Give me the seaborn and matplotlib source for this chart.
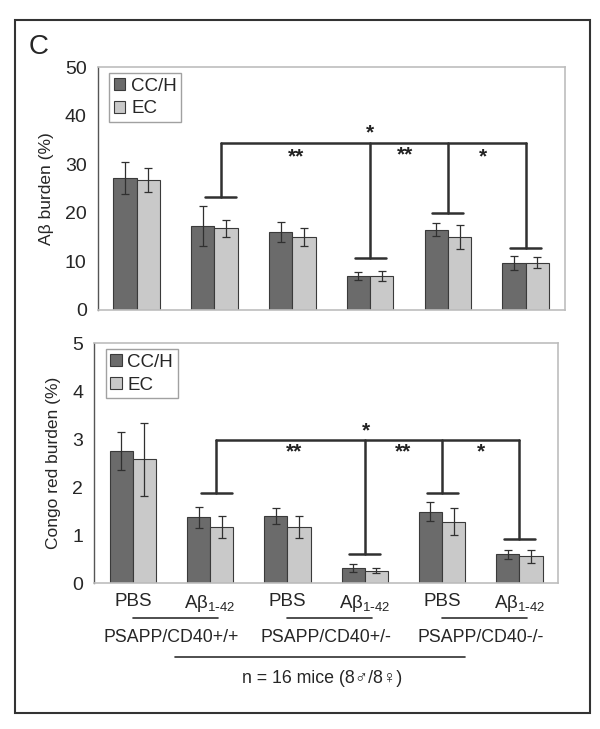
import pandas as pd
import matplotlib
matplotlib.use('Agg')
import matplotlib.pyplot as plt
from matplotlib.patches import Rectangle
from matplotlib.transforms import blended_transform_factory
import seaborn as sns

# --- Dados ---
group_ids = ['+/+ PBS', '+/+ Ab', '+/- PBS', '+/- Ab', '-/- PBS', '-/- Ab']
treatment_labels = ['PBS', r'A$\mathregular{\beta_{1\text{-}42}}$'] * 3
genotype_labels = ['PSAPP/CD40+/+', 'PSAPP/CD40+/-', 'PSAPP/CD40-/-']
regions = ['CC/H', 'EC']

# Painel superior: carga de Abeta (%)
abeta_cch = [27.2, 17.3, 16.0, 7.0, 16.5, 9.7]
abeta_cch_err = [3.3, 4.1, 2.0, 0.8, 1.3, 1.4]
abeta_ec = [26.7, 16.8, 15.0, 7.0, 15.0, 9.7]
abeta_ec_err = [2.5, 1.7, 1.8, 1.0, 2.4, 1.1]

# Painel inferior: carga de vermelho Congo (%)
congo_cch = [2.75, 1.37, 1.40, 0.31, 1.49, 0.60]
congo_cch_err = [0.40, 0.22, 0.16, 0.08, 0.20, 0.10]
congo_ec = [2.58, 1.17, 1.17, 0.26, 1.28, 0.56]
congo_ec_err = [0.76, 0.23, 0.23, 0.05, 0.28, 0.14]

# Colchetes de significancia
bracket_x = [1.08, 3, 4, 5]
abeta_bracket_top = 34.4
abeta_bracket_ends = [23.3, 10.7, 20.0, 12.7]
abeta_stars = [('*', 3.0, 36.4), ('**', 2.05, 31.6), ('**', 3.45, 32.0), ('*', 4.45, 31.6)]
congo_bracket_top = 2.98
congo_bracket_ends = [1.87, 0.60, 1.87, 0.92]
congo_stars = [('*', 3.02, 3.18), ('**', 2.08, 2.73), ('**', 3.5, 2.73), ('*', 4.5, 2.73)]

sample_text = 'n = 16 mice (8\u2642/8\u2640)'

CORES = ['#6b6b6b', '#c9c9c9']
COR_LINHA = '#303030'


def desenhar_painel(ax, cch, cch_err, ec, ec_err, ymax, passo, ylabel):
    df = pd.DataFrame({
        'grupo': group_ids * 2,
        'regiao': [regions[0]] * len(group_ids) + [regions[1]] * len(group_ids),
        'valor': cch + ec,
    })
    sns.barplot(data=df, x='grupo', y='valor', hue='regiao', order=group_ids,
                hue_order=regions, palette=CORES, width=0.6, gap=0,
                errorbar=None, edgecolor='#3a3a3a', linewidth=0.8, ax=ax)
    for container, errs in zip(list(ax.containers)[:2], [cch_err, ec_err]):
        xs = [p.get_x() + p.get_width() / 2 for p in container.patches]
        ys = [p.get_height() for p in container.patches]
        ax.errorbar(xs, ys, yerr=errs, fmt='none', ecolor=COR_LINHA,
                    elinewidth=0.9, capsize=3, capthick=0.9)
    ax.set_ylim(0, ymax)
    ax.set_yticks([passo * i for i in range(int(ymax / passo) + 1)])
    ax.set_xlim(-0.5, len(group_ids) - 0.5)
    ax.set_xlabel('')
    ax.set_ylabel(ylabel, fontsize=12.5, labelpad=8)
    ax.tick_params(axis='y', labelsize=14, length=3, color='#888888', pad=5)
    ax.tick_params(axis='x', length=0)
    for lado in ['top', 'right', 'bottom']:
        ax.spines[lado].set_color('#bdbdbd')
        ax.spines[lado].set_linewidth(1.2)
    ax.spines['left'].set_color('#555555')
    ax.spines['left'].set_linewidth(1.0)
    leg = ax.legend(loc='upper left', bbox_to_anchor=(0.025, 0.975), frameon=True,
                    fancybox=False, edgecolor='#8a8a8a', fontsize=13.5,
                    handlelength=0.6, handleheight=0.6, borderpad=0.25,
                    labelspacing=0.3, handletextpad=0.3, borderaxespad=0)
    leg.get_frame().set_linewidth(1.0)


def desenhar_colchetes(ax, topo, fundos, estrelas, meia=0.2):
    ax.plot([bracket_x[0], bracket_x[-1]], [topo, topo], color=COR_LINHA, lw=1.8)
    for x, y0 in zip(bracket_x, fundos):
        ax.plot([x, x], [topo, y0], color=COR_LINHA, lw=1.8)
        ax.plot([x - meia, x + meia], [y0, y0], color=COR_LINHA, lw=1.8)
    for txt, x, y in estrelas:
        ax.text(x, y, txt, ha='center', va='center', fontsize=15,
                fontweight='bold', color='#222222')


sns.set_style('white')
plt.rcParams['font.family'] = ['Liberation Sans', 'DejaVu Sans']

fig = plt.figure(figsize=(6, 7.29), dpi=100)
ax_top = fig.add_axes([0.163, 0.575, 0.778, 0.333])
ax_bot = fig.add_axes([0.157, 0.200, 0.773, 0.329])

desenhar_painel(ax_top, abeta_cch, abeta_cch_err, abeta_ec, abeta_ec_err,
                50, 10, 'A\u03b2 burden (%)')
ax_top.set_xticklabels([])
desenhar_colchetes(ax_top, abeta_bracket_top, abeta_bracket_ends, abeta_stars)

desenhar_painel(ax_bot, congo_cch, congo_cch_err, congo_ec, congo_ec_err,
                5, 1, 'Congo red burden (%)')
ax_bot.set_xticks(range(len(group_ids)))
ax_bot.set_xticklabels(treatment_labels, fontsize=13.5)
ax_bot.tick_params(axis='x', pad=7)
desenhar_colchetes(ax_bot, congo_bracket_top, congo_bracket_ends, congo_stars)

# Rotulos de genotipo abaixo do eixo
trans = blended_transform_factory(ax_bot.transData, ax_bot.transAxes)
for i, rotulo in enumerate(genotype_labels):
    ax_bot.plot([2 * i, 2 * i + 1.1], [-0.146, -0.146], color=COR_LINHA, lw=1.2,
                transform=trans, clip_on=False)
    ax_bot.text(2 * i + 0.5, -0.225, rotulo, transform=trans, ha='center',
                va='center', fontsize=12.8)
ax_bot.plot([0.54, 4.3], [-0.308, -0.308], color=COR_LINHA, lw=1.2,
            transform=trans, clip_on=False)
ax_bot.text(2.45, -0.396, sample_text, transform=trans, ha='center',
            va='center', fontsize=12.8)

# Moldura externa e letra do painel
fig.patches.append(Rectangle((0.025, 0.022), 0.958, 0.951, transform=fig.transFigure,
                             fill=False, edgecolor='#333333', linewidth=1.5))
fig.text(0.048, 0.935, 'C', fontsize=20, ha='left', va='center')

fig.savefig('out.png', dpi=100)
plt.close(fig)
